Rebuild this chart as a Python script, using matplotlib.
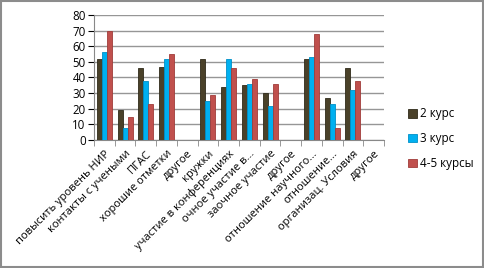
import numpy as np
import matplotlib.pyplot as plt
from matplotlib.patches import Rectangle

# data
categories = [
    "повысить уровень НИР", "контакты с учеными", "ПГАС", "хорошие отметки",
    "другое", "кружки", "участие в конференциях", "очное участие в...",
    "заочное участие", "другое", "отношение научного...", "отношение...",
    "организац. Условия", "другое",
]
kurs2 = [52, 19, 46, 47, 0, 52, 34, 35, 30, 0, 52, 27, 46, 0]
kurs3 = [56, 8, 38, 52, 0, 25, 52, 36, 22, 0, 53, 23, 32, 0]
kurs45 = [70, 15, 23, 55, 0, 29, 46, 39, 36, 0, 68, 8, 38, 0]
series_names = ["2 курс", "3 курс", "4-5 курсы"]
colors = ["#4a4129", "#00b0f0", "#c0504d"]
edges = ["#2f2a1a", "#0090c8", "#a03c3a"]

plt.rcParams['font.family'] = ['Open Sans', 'DejaVu Sans']

fig = plt.figure(figsize=(4.85, 2.68), dpi=100)
ax = fig.add_axes([94 / 485, 1 - 140 / 268, 290 / 485, 125 / 268])

x = np.arange(len(categories))
w = 0.24
for i, vals in enumerate([kurs2, kurs3, kurs45]):
    ax.bar(x + (i - 1) * w, vals, width=w, color=colors[i], edgecolor=edges[i],
           linewidth=0.6, label=series_names[i], zorder=3)

ax.set_xlim(-0.5, len(categories) - 0.5)
ax.set_ylim(0, 80)
ax.set_yticks(range(0, 81, 10))
ax.yaxis.grid(True, color="#969696", linewidth=1.0, zorder=0)
ax.tick_params(axis='y', length=4, labelsize=8.3, colors="#000000", pad=2)
ax.set_xticks(x)
ax.set_xticklabels(categories, rotation=45, ha='right', rotation_mode='anchor',
                   fontsize=8.0)
ax.tick_params(axis='x', length=0, pad=6)
ax.set_xticks(np.arange(-0.5, len(categories), 1), minor=True)
ax.tick_params(axis='x', which='minor', length=4, color="#888888")
for side in ["top", "right"]:
    ax.spines[side].set_visible(False)
ax.spines["left"].set_color("#888888")
ax.spines["bottom"].set_color("#888888")

leg = fig.legend(loc='upper left', bbox_to_anchor=(398 / 485, 1 - 97 / 268),
                 frameon=False, fontsize=8.4, handlelength=0.7, handleheight=0.7,
                 handletextpad=0.3, labelspacing=1.0)

# outer frame around the chart
fig.patches.append(Rectangle((0.002, 0.004), 0.994, 0.992, transform=fig.transFigure,
                             fill=False, edgecolor="#8c8c8c", linewidth=1.5))

fig.savefig("out.png", dpi=100)
